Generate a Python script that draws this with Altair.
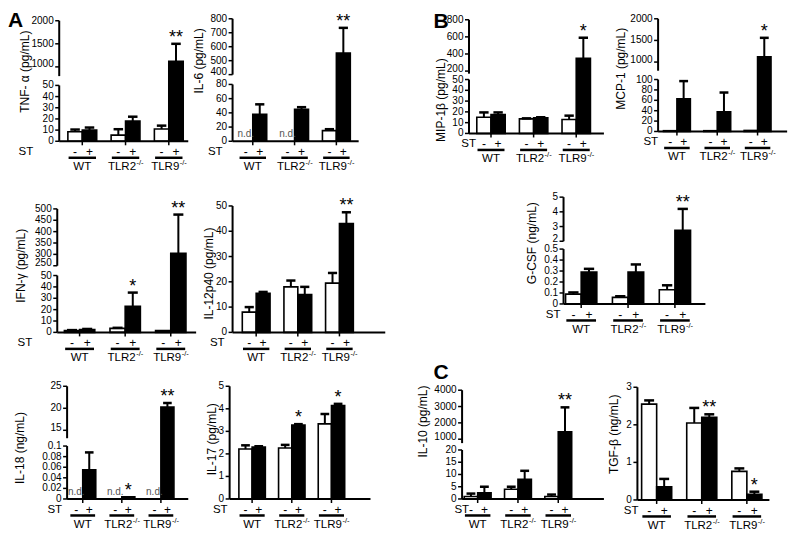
import altair as alt
import pandas as pd

# ---------------- data ----------------
GROUPS = ["WT", "TLR2", "TLR9"]
GROUP_SUP = ["", "-/-", "-/-"]
ST_LEVELS = ["-", "+"]
ST_LABEL = "ST"
ND_LABEL = "n.d."

tnf_mean = [8.5, 10, 5.5, 18, 11, 1120]
tnf_err = [10.5, 12.3, 10.8, 22, 14, 1500]
tnf_sig = ["", "", "", "", "", "**"]
tnf_ydom = [0, 50, 800, 2000]
tnf_ticks = [0, 10, 20, 30, 40, 50, 1000, 1500, 2000]

il6_mean = [None, 38, None, 45, 15, 555]
il6_err = [None, 52, None, 48, 17, 735]
il6_sig = ["", "", "", "", "", "**"]
il6_ydom = [0, 80, 400, 800]
il6_ticks = [0, 20, 40, 60, 80, 400, 500, 600, 700, 800]

mip_mean = [15, 17.5, 13.5, 14.5, 13, 350]
mip_err = [19.5, 19.5, 14, 15, 16.5, 590]
mip_sig = ["", "", "", "", "", "*"]
mip_ydom = [0, 50, 170, 800]
mip_ticks = [0, 10, 20, 30, 40, 50, 200, 400, 600, 800]

mcp_mean = [1.5, 63, 1.5, 38, 2, 1120]
mcp_err = [None, 97, None, 75, None, 1560]
mcp_sig = ["", "", "", "", "", "*"]
mcp_ydom = [0, 100, 800, 2000]
mcp_ticks = [0, 20, 40, 60, 80, 100, 1000, 1500, 2000]

ifn_mean = [1.5, 2.5, 3.5, 23, 1.5, 305]
ifn_err = [2, 3, 4, 35, None, 475]
ifn_sig = ["", "", "", "*", "", "**"]
ifn_ydom = [0, 50, 250, 500]
ifn_ticks = [0, 10, 20, 30, 40, 50, 250, 300, 350, 400, 450, 500]

il12_mean = [8, 15.5, 18, 15, 19.5, 43]
il12_err = [10, 16, 20.5, 18, 23.5, 47.5]
il12_sig = ["", "", "", "", "", "**"]
il12_ydom = [0, 50]
il12_ticks = [0, 10, 20, 30, 40, 50]

gcsf_mean = [0.09, 0.29, 0.06, 0.29, 0.13, 2.75]
gcsf_err = [0.105, 0.32, 0.07, 0.36, 0.17, 4.2]
gcsf_sig = ["", "", "", "", "", "**"]
gcsf_ydom = [0, 0.5, 2, 5]
gcsf_ticks = [0, 0.1, 0.2, 0.3, 0.4, 0.5, 2, 3, 4, 5]

il18_mean = [None, 0.055, None, 0.004, None, 20.3]
il18_err = [None, 0.088, None, None, None, 21.2]
il18_sig = ["", "", "", "*", "", "**"]
il18_ydom = [0, 0.1, 13.2, 25]
il18_ticks = [0, 0.02, 0.04, 0.06, 0.08, 0.1, 15, 20, 25]

il17_mean = [2.22, 2.3, 2.26, 3.28, 3.33, 4.15]
il17_err = [2.38, 2.34, 2.4, 3.32, 3.77, 4.22]
il17_sig = ["", "", "", "*", "", "*"]
il17_ydom = [0, 5]
il17_ticks = [0, 1, 2, 3, 4, 5]

il10_mean = [1, 2.5, 4, 8, 1, 1450]
il10_err = [2.2, 5, 5, 11.5, 1.8, 2950]
il10_sig = ["", "", "", "", "", "**"]
il10_ydom = [0, 20, 760, 4000]
il10_ticks = [0, 5, 10, 15, 20, 1000, 2000, 3000, 4000]

tgf_mean = [2.55, 0.35, 2.05, 2.2, 0.76, 0.15]
tgf_err = [2.65, 0.56, 2.45, 2.28, 0.84, 0.22]
tgf_sig = ["", "", "", "**", "", "*"]
tgf_ydom = [0, 3]
tgf_ticks = [0, 1, 2, 3]

PANELS = {
    "tnf": dict(title="TNF- α (pg/mL)", mean=tnf_mean, err=tnf_err, sig=tnf_sig, ydom=tnf_ydom, ticks=tnf_ticks),
    "il6": dict(title="IL-6 (pg/mL)", mean=il6_mean, err=il6_err, sig=il6_sig, ydom=il6_ydom, ticks=il6_ticks),
    "mip": dict(title="MIP-1β (pg/mL)", mean=mip_mean, err=mip_err, sig=mip_sig, ydom=mip_ydom, ticks=mip_ticks),
    "mcp": dict(title="MCP-1 (pg/mL)", mean=mcp_mean, err=mcp_err, sig=mcp_sig, ydom=mcp_ydom, ticks=mcp_ticks),
    "ifn": dict(title="IFN-γ (pg/mL)", mean=ifn_mean, err=ifn_err, sig=ifn_sig, ydom=ifn_ydom, ticks=ifn_ticks),
    "il12": dict(title="IL-12p40 (pg/mL)", mean=il12_mean, err=il12_err, sig=il12_sig, ydom=il12_ydom, ticks=il12_ticks),
    "gcsf": dict(title="G-CSF (ng/mL)", mean=gcsf_mean, err=gcsf_err, sig=gcsf_sig, ydom=gcsf_ydom, ticks=gcsf_ticks),
    "il18": dict(title="IL-18 (ng/mL)", mean=il18_mean, err=il18_err, sig=il18_sig, ydom=il18_ydom, ticks=il18_ticks),
    "il17": dict(title="IL-17 (pg/mL)", mean=il17_mean, err=il17_err, sig=il17_sig, ydom=il17_ydom, ticks=il17_ticks),
    "il10": dict(title="IL-10 (pg/mL)", mean=il10_mean, err=il10_err, sig=il10_sig, ydom=il10_ydom, ticks=il10_ticks),
    "tgf": dict(title="TGF-β (ng/mL)", mean=tgf_mean, err=tgf_err, sig=tgf_sig, ydom=tgf_ydom, ticks=tgf_ticks),
}

# ---------------- layout (reference pixel geometry) ----------------
LAYOUT = {
    "tnf": dict(axis=54, right=185, ypx=[139, 82, 72.5, 16], xdom=[-1.1, 7.85], tx=-34, ty=68, st=-26),
    "il6": dict(axis=230, right=358, ypx=[139, 81, 71, 14], xdom=[-0.95, 8.1], tx=-34, ty=57, st=-10),
    "mip": dict(axis=470, right=607, ypx=[131, 76, 70, 15], xdom=[-1.05, 8.45], tx=-28, ty=97, st=7),
    "mcp": dict(axis=662, right=793, ypx=[129, 76, 67, 14], xdom=[-0.9, 8.7], tx=-37, ty=65, st=0),
    "ifn": dict(axis=52, right=193, ypx=[334, 276, 266, 208], xdom=[-0.97, 8.17], tx=-36, ty=266, st=-25),
    "il12": dict(axis=230, right=385, ypx=[334, 205], xdom=[-1.2, 9.8], tx=-24, ty=274, st=-8),
    "gcsf": dict(axis=566, right=710, ypx=[305, 249, 241, 196], xdom=[-0.63, 8.45], tx=-32, ty=243, st=-3),
    "il18": dict(axis=62, right=185, ypx=[504, 450, 442, 389], xdom=[-0.7, 8.6], tx=-47, ty=452, st=-5),
    "il17": dict(axis=227, right=370, ypx=[504, 389], xdom=[-1.2, 9.45], tx=-18, ty=443, st=-2),
    "il10": dict(axis=463, right=607, ypx=[504, 454, 447, 393], xdom=[-0.66, 9.9], tx=-39, ty=425, st=7),
    "tgf": dict(axis=641, right=775, ypx=[505, 390], xdom=[-0.78, 8.0], tx=-23, ty=438, st=1),
}
LETTERS = {"tnf": ("A", 2, 5), "mip": ("B", 434, 6), "il10": ("C", 434, 364)}

FONT = "Liberation Sans, Arial, sans-serif"
SX, SY = 0.985, 0.98
CANVAS_W, CANVAS_H = 784, 526


def X(v):
    return (v - 2) * SX


def Y(v):
    return (v - 3) * SY


def build_panel(key):
    p, lay = PANELS[key], LAYOUT[key]
    x0, x1 = X(lay["axis"]), X(lay["right"])
    yb = Y(lay["ypx"][0])
    xs = alt.Scale(domain=lay["xdom"], range=[x0, x1], nice=False, zero=False)
    ys = alt.Scale(domain=p["ydom"], range=[Y(v) for v in lay["ypx"]], nice=False, zero=False)

    def xq(field):
        return alt.X(field, scale=xs, axis=None)

    def yq(field):
        return alt.Y(field, scale=ys, axis=None)

    recs = []
    for i in range(6):
        g, s = divmod(i, 2)
        pos = g * 3 + s
        m, e = p["mean"][i], p["err"][i]
        recs.append(dict(pos=pos, x1=pos - 0.5, x2=pos + 0.5, c1=pos - 0.33, c2=pos + 0.33,
                         mean=m, err=e, top=(e if e is not None else m), sig=p["sig"][i],
                         fill=("white" if s == 0 else "black"), st=ST_LEVELS[s],
                         nd=(ND_LABEL if m is None else ""), zero=0))
    base = alt.Chart(pd.DataFrame(recs))

    bars = base.transform_filter("isValid(datum.mean)").mark_rect(
        stroke="black", strokeWidth=1.6).encode(
        x=xq("x1:Q"), x2="x2:Q", y=yq("mean:Q"), y2="zero:Q",
        fill=alt.Fill("fill:N", scale=None))
    errl = base.transform_filter("isValid(datum.err)").mark_rule(color="black", strokeWidth=2).encode(
        x=xq("pos:Q"), y=yq("mean:Q"), y2="err:Q")
    caps = base.transform_filter("isValid(datum.err)").mark_rule(color="black", strokeWidth=2.5).encode(
        x=xq("c1:Q"), x2="c2:Q", y=yq("err:Q"))
    stars = base.transform_filter("datum.sig != ''").mark_text(
        font=FONT, fontSize=18, baseline="alphabetic", dy=-1, color="black").encode(
        x=xq("pos:Q"), y=yq("top:Q"), text="sig:N")
    nd = base.transform_filter("datum.nd != ''").mark_text(
        font=FONT, fontSize=10, baseline="alphabetic", dy=-4, color="#555555").encode(
        x=xq("pos:Q"), y=yq("zero:Q"), text="nd:N")

    # broken y axis: line segments, ticks and labels through the panel's own scale
    seg = alt.Chart(pd.DataFrame({"lo": p["ydom"][0::2], "hi": p["ydom"][1::2]}))
    yseg = seg.mark_rule(color="black", strokeWidth=2).encode(
        x=alt.value(x0), y=yq("lo:Q"), y2="hi:Q")
    ticks = p["ticks"]
    if len(p["ydom"]) > 2:
        upper_min = min(t for t in ticks if t >= p["ydom"][2])
        side = ["up" if t == upper_min else "mid" for t in ticks]
    else:
        side = ["mid"] * len(ticks)
    tdf = alt.Chart(pd.DataFrame({"v": ticks, "lab": [f"{v:g}" for v in ticks], "side": side}))
    yticks = tdf.mark_rule(color="black", strokeWidth=1.5).encode(
        x=alt.value(x0 - 4), x2=alt.value(x0), y=yq("v:Q"))
    ylabel_layers = []
    for sname, shift in (("mid", 0), ("up", -2.5)):
        ylabel_layers.append(
            tdf.transform_filter(f"datum.side == '{sname}'").mark_text(
                font=FONT, fontSize=10, align="right", baseline="middle", dy=shift,
                color="black").encode(
                x=alt.value(x0 - 5.5), y=yq("v:Q"), text="lab:N"))
    ytitle = alt.Chart(alt.Data(values=[{"t": p["title"]}])).mark_text(
        font=FONT, fontSize=12, angle=270, align="center", baseline="middle", color="black").encode(
        x=alt.value(x0 + lay["tx"]), y=alt.value(Y(lay["ty"])), text="t:N")
    baseline = alt.Chart(pd.DataFrame({"zero": [0]})).mark_rule(color="black", strokeWidth=2).encode(
        x=alt.value(x0), x2=alt.value(x1), y=yq("zero:Q"))

    stl = base.mark_text(font=FONT, fontSize=12, baseline="middle", color="black").encode(
        x=xq("pos:Q"), y=alt.value(yb + 11), text="st:N")
    st_lab = alt.Chart(alt.Data(values=[{"t": ST_LABEL}])).mark_text(
        font=FONT, fontSize=11.5, align="right", baseline="middle", color="black").encode(
        x=alt.value(x0 + lay["st"]), y=alt.value(yb + 11), text="t:N")

    gdf = alt.Chart(pd.DataFrame({"g": GROUPS, "sup": GROUP_SUP,
                                  "center": [k * 3 + 0.5 for k in range(3)],
                                  "u1": [k * 3 - 0.45 for k in range(3)],
                                  "u2": [k * 3 + 1.45 for k in range(3)]}))
    gticks = gdf.mark_rule(color="black", strokeWidth=1.5).encode(
        x=xq("center:Q"), y=alt.value(yb), y2=alt.value(yb + 4))
    under = gdf.mark_rule(color="black", strokeWidth=2.5).encode(
        x=xq("u1:Q"), x2="u2:Q", y=alt.value(yb + 16.5))
    gl_plain = gdf.transform_filter("datum.sup == ''").mark_text(
        font=FONT, fontSize=11.5, baseline="middle", color="black").encode(
        x=xq("center:Q"), y=alt.value(yb + 26), text="g:N")
    gl_main = gdf.transform_filter("datum.sup != ''").mark_text(
        font=FONT, fontSize=11.5, baseline="middle", align="right", dx=10.5, color="black").encode(
        x=xq("center:Q"), y=alt.value(yb + 26), text="g:N")
    gl_sup = gdf.transform_filter("datum.sup != ''").mark_text(
        font=FONT, fontSize=7.5, baseline="middle", align="left", dx=11, dy=-4, color="black").encode(
        x=xq("center:Q"), y=alt.value(yb + 26), text="sup:N")

    layers = [bars, errl, caps, stars, nd, yseg, yticks] + ylabel_layers + [
        ytitle, baseline, stl, st_lab, gticks, under, gl_plain, gl_main, gl_sup]
    if key in LETTERS:
        letter, lx, ly = LETTERS[key]
        layers.append(alt.Chart(alt.Data(values=[{"t": letter}])).mark_text(
            font=FONT, fontSize=21, fontWeight="bold", align="left", baseline="top", color="black").encode(
            x=alt.value(X(lx)), y=alt.value(Y(ly)), text="t:N"))
    return alt.layer(*layers)


panels = [build_panel(k) for k in LAYOUT]

chart = alt.layer(*panels).resolve_scale(
    x="independent", y="independent"
).properties(
    width=CANVAS_W, height=CANVAS_H, padding=0, background="white"
).configure_view(stroke=None)

chart.save("out.html", embed_options={"renderer": "svg", "actions": False})
